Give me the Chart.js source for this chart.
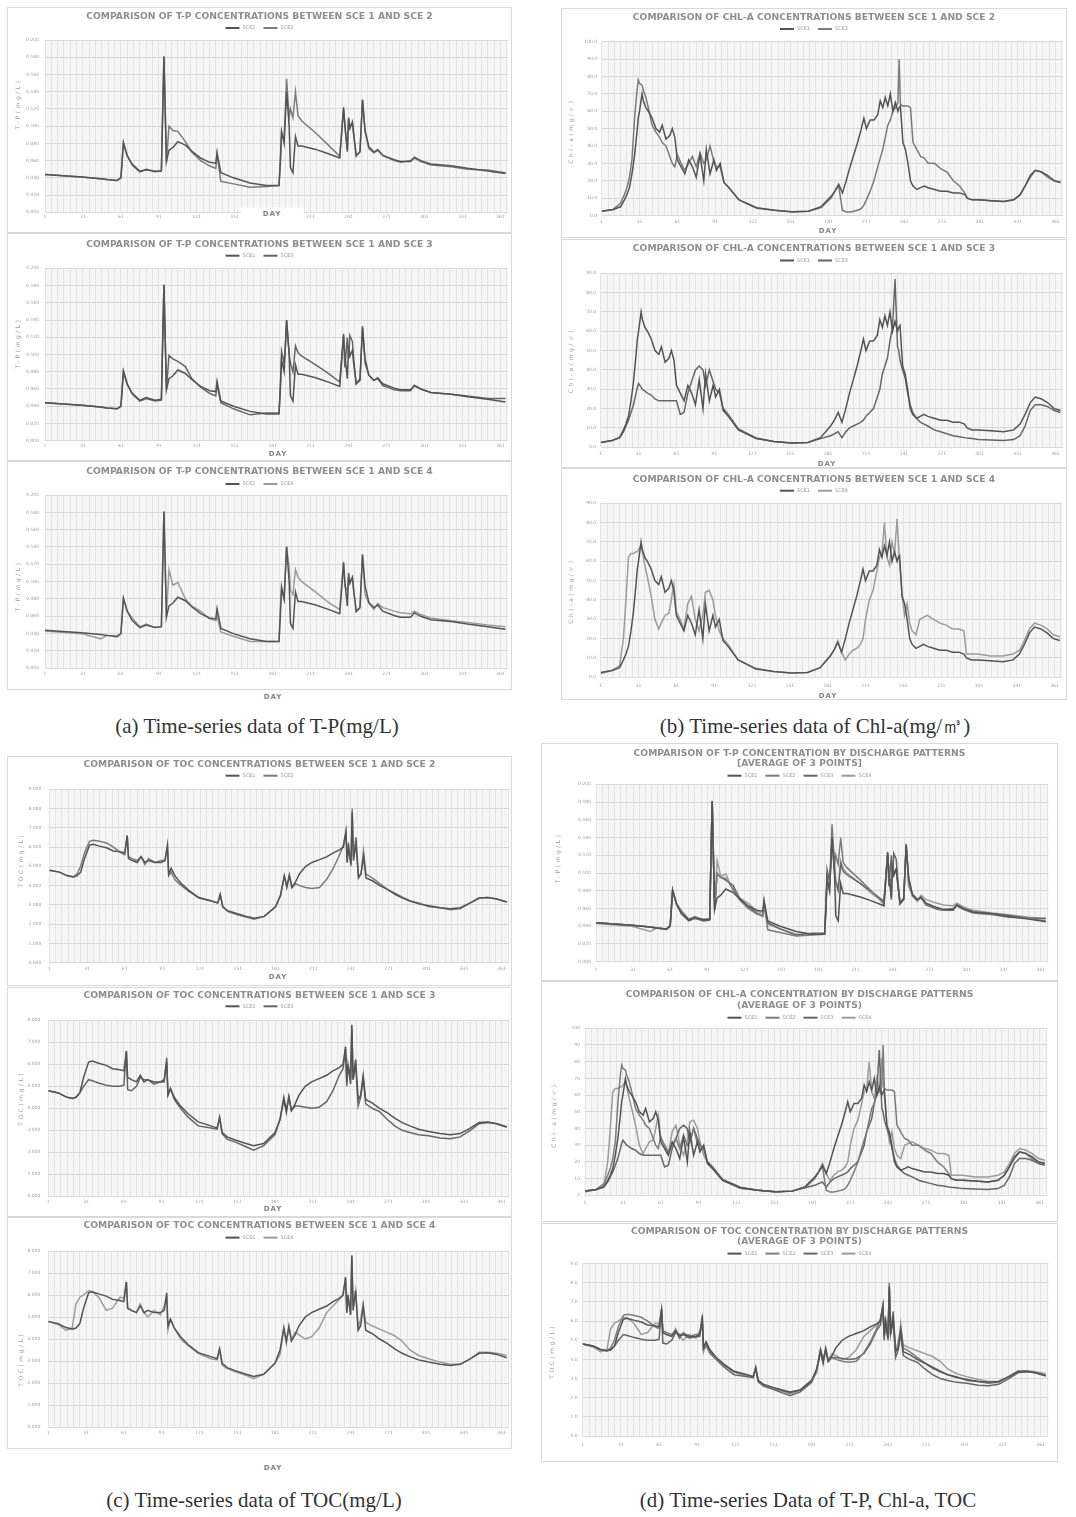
<!DOCTYPE html>
<html lang="en">
<head>
<meta charset="utf-8">
<title>Time-series data of T-P, Chl-a and TOC</title>
<script src="https://cdn.jsdelivr.net/npm/chart.js@4.4.1/dist/chart.umd.min.js"></script>
<style>
  html, body { margin: 0; padding: 0; background: #fff; overflow: hidden; }
  #page { position: relative; width: 1076px; height: 1517px; overflow: hidden; background: #fff; }
  #page canvas { position: absolute; }
  .day { position: absolute; transform: translate(-50%, -50%); font: bold 7px "DejaVu Sans", sans-serif;
         letter-spacing: 1px; color: #858585; white-space: nowrap; line-height: 1; }
  .day.boxed { background: #fff; padding: 3px 22px; }
  .cap { position: absolute; transform: translate(-50%, -50%); font: 21px "Liberation Serif", serif;
         color: #333; white-space: nowrap; }
</style>
</head>
<body>
<div id="page">
  <div class="cap" style="left:257px;top:726px">(a) Time-series data of T-P(mg/L)</div>
  <div class="cap" style="left:815px;top:726px">(b) Time-series data of Chl-a(mg/㎥)</div>
  <div class="cap" style="left:254px;top:1500px">(c) Time-series data of TOC(mg/L)</div>
  <div class="cap" style="left:808px;top:1500px">(d) Time-series Data of T-P, Chl-a, TOC</div>
</div>
<script>
// ---- axis labels ----
const DAY_TICKS = [1, 31, 61, 91, 121, 151, 181, 211, 241, 271, 301, 331, 361];
const SCENARIOS = ['SCE1', 'SCE2', 'SCE3', 'SCE4'];

// ---- T-P (mg/L) ----
const TP_DAY = [1, 30, 45, 50, 58, 61, 63, 66, 70, 76, 81, 88, 93, 95, 97, 99, 102, 106, 112, 117,
  124, 131, 136, 137, 140, 150, 163, 176, 186, 187, 188, 190, 191, 192, 194, 195, 197, 199, 201, 204,
  215, 225, 234, 237, 238, 240, 241, 242, 244, 245, 247, 250, 252, 254, 257, 261, 264, 268, 277, 282,
  290, 293, 298, 306, 322, 335, 351, 365];
const TP_SCE1 = [0.044, 0.041, 0.039, 0.038, 0.037, 0.040, 0.081, 0.066, 0.055, 0.047, 0.050, 0.047, 0.048, 0.181, 0.059,
  0.072, 0.075, 0.082, 0.078, 0.071, 0.063, 0.058, 0.057, 0.069, 0.046, 0.040, 0.034, 0.031, 0.031, 0.060,
  0.094, 0.080, 0.110, 0.140, 0.100, 0.052, 0.046, 0.088, 0.077, 0.077, 0.073, 0.068, 0.063, 0.122, 0.100,
  0.072, 0.110, 0.098, 0.105, 0.090, 0.066, 0.070, 0.131, 0.095, 0.076, 0.070, 0.073, 0.066, 0.061, 0.059,
  0.059, 0.064, 0.060, 0.056, 0.054, 0.051, 0.048, 0.045];
const TP_SCE2 = [0.044, 0.041, 0.039, 0.038, 0.037, 0.040, 0.080, 0.065, 0.056, 0.048, 0.049, 0.048, 0.048, 0.180, 0.058,
  0.100, 0.095, 0.094, 0.082, 0.070, 0.060, 0.054, 0.051, 0.068, 0.036, 0.033, 0.029, 0.030, 0.031, 0.055,
  0.090, 0.085, 0.120, 0.155, 0.110, 0.120, 0.110, 0.140, 0.112, 0.106, 0.092, 0.078, 0.065, 0.120, 0.104,
  0.070, 0.108, 0.097, 0.104, 0.092, 0.065, 0.071, 0.130, 0.094, 0.074, 0.069, 0.072, 0.066, 0.060, 0.058,
  0.060, 0.063, 0.059, 0.055, 0.053, 0.050, 0.049, 0.046];
const TP_SCE3 = [0.044, 0.041, 0.039, 0.038, 0.037, 0.040, 0.080, 0.065, 0.054, 0.046, 0.049, 0.046, 0.047, 0.181, 0.059,
  0.099, 0.095, 0.092, 0.086, 0.072, 0.062, 0.055, 0.052, 0.065, 0.044, 0.037, 0.030, 0.032, 0.032, 0.060,
  0.104, 0.090, 0.110, 0.139, 0.100, 0.090, 0.080, 0.110, 0.102, 0.098, 0.088, 0.078, 0.068, 0.124, 0.085,
  0.120, 0.095, 0.122, 0.115, 0.095, 0.066, 0.072, 0.133, 0.090, 0.076, 0.070, 0.072, 0.064, 0.059, 0.058,
  0.058, 0.064, 0.060, 0.056, 0.054, 0.052, 0.049, 0.049];
const TP_SCE4 = [0.043, 0.040, 0.034, 0.038, 0.036, 0.040, 0.081, 0.066, 0.058, 0.048, 0.051, 0.047, 0.048, 0.181, 0.060,
  0.114, 0.096, 0.099, 0.080, 0.072, 0.066, 0.057, 0.055, 0.060, 0.042, 0.037, 0.031, 0.031, 0.031, 0.070,
  0.092, 0.080, 0.110, 0.141, 0.115, 0.090, 0.085, 0.114, 0.105, 0.100, 0.088, 0.076, 0.068, 0.123, 0.095,
  0.090, 0.106, 0.100, 0.105, 0.090, 0.065, 0.070, 0.132, 0.085, 0.075, 0.068, 0.075, 0.070, 0.066, 0.064,
  0.063, 0.066, 0.062, 0.058, 0.055, 0.053, 0.050, 0.048];

// ---- Chl-a (mg/m3) ----
const CHL_DAY = [1, 10, 16, 19, 21, 23, 25, 27, 29, 30, 31, 33, 34, 36, 38, 41, 44, 47, 49, 52,
  55, 57, 59, 61, 64, 67, 70, 73, 76, 79, 82, 84, 87, 90, 92, 95, 98, 102, 110, 124,
  138, 152, 165, 175, 183, 186, 189, 192, 195, 198, 201, 204, 207, 209, 211, 214, 217, 220, 222, 224,
  226, 228, 230, 232, 234, 236, 237, 238, 240, 242, 244, 246, 248, 251, 254, 257, 260, 265, 270, 275,
  280, 285, 289, 291, 295, 300, 310, 320, 328, 333, 337, 341, 345, 350, 355, 360, 365];
const CHL_SCE1 = [2.5, 3.5, 5, 9, 12, 16, 24, 34, 48, 56, 60, 70, 66, 62, 60, 56, 50, 48, 52, 44,
  46, 50, 45, 32, 28, 24, 32, 28, 22, 35, 20, 38, 24, 32, 26, 30, 19, 16, 9, 4.5,
  3, 2.2, 2.5, 5, 11, 14, 18, 13, 20, 28, 35, 42, 50, 56, 50, 55, 55, 58, 66, 62,
  68, 63, 70, 60, 65, 60, 62, 63, 42, 38, 30, 20, 17, 15, 16, 17, 16, 15, 14, 14,
  13, 13, 12, 10, 9, 9, 8.5, 8, 9, 12, 17, 23, 26, 25, 23, 20, 19];
const CHL_SCE2 = [2.5, 3.5, 7, 12, 16, 22, 32, 55, 72, 78, 76, 75, 72, 68, 62, 52, 48, 45, 42, 40,
  34, 30, 28, 35, 30, 26, 30, 34, 28, 36, 30, 32, 40, 31, 28, 28, 19, 16, 9, 4.2,
  3, 2, 2.5, 4.5, 10, 14, 17, 3, 2, 2, 2.5, 3, 4, 6, 9, 14, 20, 28, 33, 38,
  45, 52, 55, 60, 62, 65, 90, 64, 63, 63, 63, 62, 42, 38, 34, 33, 30, 30, 27, 25,
  20, 17, 13, 10, 9, 9, 8.5, 8, 9, 12, 17, 22, 26, 25, 22, 20, 19];
const CHL_SCE3 = [2.5, 3.5, 5, 8, 11, 14, 18, 22, 28, 31, 33, 31, 30, 29, 28, 27, 25, 24, 24, 24,
  24, 24, 24, 24, 17, 18, 28, 34, 40, 42, 40, 32, 40, 34, 30, 28, 20, 17, 9.5, 4.8,
  3, 2.2, 2.5, 4.5, 6, 7, 8, 5, 8, 10, 11, 12, 13, 14, 16, 18, 20, 26, 30, 38,
  42, 46, 55, 62, 87, 52, 50, 45, 40, 36, 28, 22, 18, 15, 13, 12, 11, 9, 8, 7,
  6, 5.5, 5, 4.8, 4.5, 4, 3.8, 3.5, 4, 6, 11, 19, 22, 22, 21, 19, 18];
const CHL_SCE4 = [2.0, 3.5, 6, 20, 40, 62, 64, 64, 65, 65, 66, 68, 65, 58, 52, 42, 30, 25, 28, 32,
  33, 40, 48, 34, 30, 25, 38, 42, 30, 24, 32, 44, 45, 40, 32, 24, 20, 17, 9, 4.2,
  3, 2.2, 2.5, 5, 11, 14, 19, 13, 9, 12, 14, 15, 17, 20, 30, 40, 45, 55, 62, 64,
  80, 62, 58, 70, 64, 82, 70, 60, 42, 32, 38, 28, 24, 22, 30, 31, 32, 30, 28, 27,
  25, 25, 24, 12, 12, 12, 11, 11, 12, 14, 19, 25, 28, 27, 25, 22, 21];

// ---- TOC (mg/L) ----
const TOC_DAY = [1, 9, 15, 20, 23, 26, 29, 33, 36, 41, 47, 52, 58, 61, 63, 64, 67, 71, 74, 77,
  80, 85, 90, 93, 95, 96, 98, 101, 106, 112, 120, 130, 135, 137, 139, 143, 150, 158, 164, 172,
  181, 185, 188, 190, 192, 194, 197, 200, 205, 210, 216, 222, 227, 232, 235, 237, 238, 239, 241, 242,
  243, 245, 247, 249, 251, 253, 258, 264, 270, 276, 282, 288, 295, 303, 312, 320, 328, 336, 343, 350,
  357, 365];
const TOC_SCE1 = [4.8, 4.7, 4.52, 4.45, 4.5, 4.7, 5.4, 6.1, 6.15, 6.05, 5.95, 5.8, 5.75, 5.7, 6.6, 5.4, 5.3, 5.2, 5.5, 5.2,
  5.3, 5.2, 5.2, 5.3, 6.1, 4.6, 4.9, 4.5, 4.1, 3.75, 3.38, 3.2, 3.1, 3.55, 2.9, 2.7, 2.55, 2.4, 2.3, 2.4,
  2.9, 3.5, 4.5, 3.9, 4.55, 3.9, 4.2, 4.6, 5.0, 5.2, 5.35, 5.5, 5.7, 5.85, 6.0, 6.8, 5.2, 6.0, 5.1, 7.8,
  5.3, 6.2, 4.4, 4.6, 5.5, 4.4, 4.25, 4.0, 3.8, 3.55, 3.35, 3.2, 3.05, 2.95, 2.85, 2.8, 2.85, 3.1, 3.35, 3.38,
  3.3, 3.15];
const TOC_SCE2 = [4.8, 4.7, 4.52, 4.45, 4.6, 5.0, 5.7, 6.3, 6.35, 6.3, 6.2, 6.0, 5.7, 5.6, 6.6, 5.5, 5.4, 5.3, 5.5, 5.1,
  5.4, 5.2, 5.3, 5.3, 6.0, 4.5, 4.7, 4.3, 4.0, 3.7, 3.35, 3.2, 3.1, 3.5, 2.9, 2.65, 2.5, 2.35, 2.25, 2.4,
  2.9, 3.5, 4.5, 4.0, 4.5, 3.9, 4.1, 4.0, 3.9, 3.85, 3.9, 4.35, 4.9, 5.6, 6.1, 6.8, 5.2, 6.2, 5.0, 8.0,
  5.5, 6.5, 4.5, 4.6, 5.8, 4.6, 4.4, 4.1, 3.8, 3.6, 3.4, 3.2, 3.1, 2.9, 2.85, 2.75, 2.8, 3.1, 3.35, 3.38,
  3.3, 3.15];
const TOC_SCE3 = [4.8, 4.7, 4.52, 4.45, 4.5, 4.7, 5.0, 5.3, 5.25, 5.15, 5.05, 5.0, 5.0, 5.05, 6.6, 4.85, 4.8, 5.0, 5.4, 5.3,
  5.3, 5.1, 5.2, 5.2, 6.3, 4.6, 4.9, 4.4, 4.0, 3.6, 3.2, 3.1, 3.05, 3.6, 2.85, 2.6, 2.45, 2.25, 2.1, 2.3,
  2.8, 3.5, 4.4, 3.8, 4.5, 3.9, 4.1, 4.1, 4.05, 4.0, 4.05, 4.3, 4.8, 5.5, 5.8, 6.7, 5.0, 6.0, 5.3, 7.6,
  5.3, 6.0, 4.1, 4.5, 5.35, 4.2, 4.0, 3.85, 3.5, 3.2, 3.0, 2.9, 2.8, 2.75, 2.65, 2.62, 2.7, 3.0, 3.3, 3.35,
  3.3, 3.15];
const TOC_SCE4 = [4.8, 4.65, 4.4, 4.5, 5.6, 5.9, 6.0, 6.2, 6.15, 5.9, 5.3, 5.4, 5.9, 5.85, 6.6, 5.4, 5.3, 5.2, 5.6, 5.2,
  5.0, 5.3, 5.1, 5.5, 5.8, 4.4, 4.9, 4.5, 4.0, 3.7, 3.35, 3.1, 3.05, 3.5, 2.8, 2.65, 2.5, 2.35, 2.2, 2.4,
  2.9, 3.3, 4.5, 3.8, 4.6, 4.0, 4.3, 4.2, 4.0, 4.1, 4.5, 5.2, 5.5, 5.8, 6.0, 6.8, 5.2, 5.9, 5.1, 7.8,
  5.5, 6.2, 4.5, 4.9, 5.6, 4.75, 4.6, 4.45, 4.3, 4.15, 3.9, 3.5, 3.25, 3.1, 2.95, 2.85, 2.85, 3.1, 3.4, 3.4,
  3.35, 3.25];

const PARAMS = {
  TP:  { day: TP_DAY,  series: [TP_SCE1, TP_SCE2, TP_SCE3, TP_SCE4] },
  CHL: { day: CHL_DAY, series: [CHL_SCE1, CHL_SCE2, CHL_SCE3, CHL_SCE4] },
  TOC: { day: TOC_DAY, series: [TOC_SCE1, TOC_SCE2, TOC_SCE3, TOC_SCE4] }
};

// ---- styling ----
const FONT = '"DejaVu Sans", sans-serif';
const LINE_COLORS = ['#545454', '#7c7c7c', '#676767', '#9c9c9c'];
const GRID_DAYS = [];
for (let d = 1; d <= 366; d += 5) GRID_DAYS.push(d);

// Panel layout in page pixels: frame [x, y, w, h], plot area [left, top, right, bottom]
const PANELS = [
  { param: 'TP', pair: [0, 1], yMax: 0.2, yStep: 0.02, digits: 3, yTitle: 'T-P(mg/L)',
    title: ['COMPARISON OF T-P CONCENTRATIONS BETWEEN SCE 1 AND SCE 2'],
    frame: [7, 7, 505, 226], plot: [45, 40, 508, 212.3], titleY: [16.7], legendY: 28, tickY: 217,
    yPad: 6, yTitleAt: [18, 104], day: [272, 213.5, true] },
  { param: 'TP', pair: [0, 2], yMax: 0.2, yStep: 0.02, digits: 3, yTitle: 'T-P(mg/L)',
    title: ['COMPARISON OF T-P CONCENTRATIONS BETWEEN SCE 1 AND SCE 3'],
    frame: [7, 233, 505, 228], plot: [45, 268.3, 508, 440.7], titleY: [245], legendY: 255.7, tickY: 446,
    yPad: 6, yTitleAt: [18, 343], day: [278, 454, false] },
  { param: 'TP', pair: [0, 3], yMax: 0.2, yStep: 0.02, digits: 3, yTitle: 'T-P(mg/L)',
    title: ['COMPARISON OF T-P CONCENTRATIONS BETWEEN SCE 1 AND SCE 4'],
    frame: [7, 461, 505, 229], plot: [45, 495, 508, 668.3], titleY: [471.5], legendY: 484, tickY: 674,
    yPad: 6, yTitleAt: [18, 586], day: [273, 697, true] },
  { param: 'CHL', pair: [0, 1], yMax: 100, yStep: 10, digits: 1, yTitle: 'Chl-a(mg/㎥)',
    title: ['COMPARISON OF CHL-A CONCENTRATIONS BETWEEN SCE 1 AND SCE 2'],
    frame: [561, 8, 506, 230.5], plot: [601.7, 41.7, 1063, 216], titleY: [17.3], legendY: 29, tickY: 222,
    yPad: 4.5, yTitleAt: [571.7, 131], day: [828, 231, false] },
  { param: 'CHL', pair: [0, 2], yMax: 90, yStep: 10, digits: 1, yTitle: 'Chl-a(mg/㎥)',
    title: ['COMPARISON OF CHL-A CONCENTRATIONS BETWEEN SCE 1 AND SCE 3'],
    frame: [561, 238.5, 506, 229.5], plot: [600.7, 272.7, 1063, 447.3], titleY: [248.3], legendY: 260, tickY: 454,
    yPad: 4.5, yTitleAt: [571.7, 360], day: [827, 464, false] },
  { param: 'CHL', pair: [0, 3], yMax: 90, yStep: 10, digits: 1, yTitle: 'Chl-a(mg/㎥)',
    title: ['COMPARISON OF CHL-A CONCENTRATIONS BETWEEN SCE 1 AND SCE 4'],
    frame: [561, 468, 506, 232], plot: [600.7, 503.3, 1063, 677.3], titleY: [479.3], legendY: 490.7, tickY: 686,
    yPad: 4.5, yTitleAt: [571.7, 591], day: [828, 695.7, false] },
  { param: 'TOC', pair: [0, 1], yMax: 9, yStep: 1, digits: 3, yTitle: 'TOC(mg/L)',
    title: ['COMPARISON OF TOC CONCENTRATIONS BETWEEN SCE 1 AND SCE 2'],
    frame: [7, 756, 505, 230.7], plot: [49.3, 789.3, 509.3, 963.3], titleY: [765], legendY: 775.7, tickY: 969.3,
    yPad: 8, yTitleAt: [21.7, 860], day: [278, 977.3, false] },
  { param: 'TOC', pair: [0, 2], yMax: 8, yStep: 1, digits: 3, yTitle: 'TOC(mg/L)',
    title: ['COMPARISON OF TOC CONCENTRATIONS BETWEEN SCE 1 AND SCE 3'],
    frame: [7, 986.7, 505, 230], plot: [48.3, 1020, 509.3, 1196], titleY: [995], legendY: 1006, tickY: 1201.7,
    yPad: 8, yTitleAt: [21.7, 1098], day: [273, 1209.3, false] },
  { param: 'TOC', pair: [0, 3], yMax: 8, yStep: 1, digits: 3, yTitle: 'TOC(mg/L)',
    title: ['COMPARISON OF TOC CONCENTRATIONS BETWEEN SCE 1 AND SCE 4'],
    frame: [7, 1216.7, 505, 232.6], plot: [48.3, 1250.7, 509.3, 1427.3], titleY: [1225], legendY: 1237.3, tickY: 1432.7,
    yPad: 8, yTitleAt: [21.7, 1359], day: [273, 1468.3, false] },
  { param: 'TP', pair: [0, 1, 2, 3], yMax: 0.2, yStep: 0.02, digits: 3, yTitle: 'T-P(mg/L)',
    title: ['COMPARISON OF T-P CONCENTRATION BY DISCHARGE PATTERNS', '[AVERAGE OF 3 POINTS]'],
    frame: [541, 743, 517, 238], plot: [596, 784.3, 1048.3, 961.7], titleY: [753.3, 764], legendY: 775.7, tickY: 970,
    yPad: 5, yTitleAt: [558.3, 858], day: null },
  { param: 'CHL', pair: [0, 1, 2, 3], yMax: 100, yStep: 10, digits: 0, yTitle: 'Chl-a(mg/㎥)',
    title: ['COMPARISON OF CHL-A CONCENTRATION BY DISCHARGE PATTERNS', '(AVERAGE OF 3 POINTS)'],
    frame: [541, 981, 517, 241.7], plot: [585, 1028.3, 1047.3, 1196], titleY: [995, 1005.5], legendY: 1017.7, tickY: 1204,
    yPad: 5, yTitleAt: [554, 1115], day: null },
  { param: 'TOC', pair: [0, 1, 2, 3], yMax: 9, yStep: 1, digits: 1, yTitle: 'TOC(mg/L)',
    title: ['COMPARISON OF TOC CONCENTRATION BY DISCHARGE PATTERNS', '(AVERAGE OF 3 POINTS)'],
    frame: [541, 1222.7, 517, 239], plot: [582.7, 1263.3, 1048.3, 1435.7], titleY: [1231.7, 1241.7], legendY: 1253.3, tickY: 1445,
    yPad: 5, yTitleAt: [552.7, 1351], day: null }
];

// Frame, plot background, headings, legend and rotated axis title
const panelText = {
  id: 'panelText',
  beforeDraw(chart, args, o) {
    const { ctx, chartArea: a } = chart;
    ctx.save();
    ctx.fillStyle = '#f6f6f6';
    ctx.fillRect(a.left, a.top, a.right - a.left, a.bottom - a.top);
    ctx.strokeStyle = '#d9d9d9';
    ctx.lineWidth = 1;
    ctx.strokeRect(0.5, 0.5, chart.width - 1, chart.height - 1);
    ctx.restore();
  },
  afterDraw(chart, args, o) {
    const ctx = chart.ctx;
    ctx.save();
    ctx.textAlign = 'center';
    ctx.textBaseline = 'middle';
    ctx.fillStyle = '#8e8e8e';
    ctx.font = 'bold 9.2px ' + FONT;
    o.title.forEach((t, i) => ctx.fillText(t, o.cx, o.titleY[i]));

    ctx.font = '5px ' + FONT;
    const items = chart.data.datasets.map(ds => ({
      label: ds.label, color: ds.borderColor, w: 17 + ctx.measureText(ds.label).width
    }));
    const gap = 8;
    const total = items.reduce((s, it) => s + it.w, 0) + gap * (items.length - 1);
    let x = o.cx - total / 2;
    ctx.textAlign = 'left';
    items.forEach(it => {
      ctx.fillStyle = it.color;
      ctx.fillRect(x, o.legendY - 1, 14, 2);
      ctx.fillStyle = '#999';
      ctx.fillText(it.label, x + 17, o.legendY);
      x += it.w + gap;
    });

    ctx.translate(o.yTitleX, o.yTitleY);
    ctx.rotate(-Math.PI / 2);
    ctx.textAlign = 'center';
    ctx.font = '6px ' + FONT;
    ctx.letterSpacing = '2.5px';
    ctx.fillStyle = '#999';
    ctx.fillText(o.yTitle, 0, 0);
    ctx.restore();
  }
};

const page = document.getElementById('page');

PANELS.forEach(p => {
  const [fx, fy, fw, fh] = p.frame;
  const [L, T, R, B] = p.plot;
  const src = PARAMS[p.param];

  const canvas = document.createElement('canvas');
  canvas.width = fw;
  canvas.height = fh;
  canvas.style.left = fx + 'px';
  canvas.style.top = fy + 'px';
  page.appendChild(canvas);

  const yTicks = [];
  const nY = Math.round(p.yMax / p.yStep);
  for (let i = 0; i <= nY; i++) yTicks.push(+(i * p.yStep).toFixed(6));

  const datasets = p.pair.map(k => ({
    label: SCENARIOS[k],
    data: src.day.map((d, i) => ({ x: d, y: src.series[k][i] })),
    borderColor: LINE_COLORS[k],
    borderWidth: 1.5,
    pointRadius: 0,
    fill: false,
    tension: 0
  }));

  const tickFont = { family: FONT, size: 4.5 };

  new Chart(canvas, {
    type: 'line',
    data: { datasets },
    options: {
      responsive: false,
      animation: false,
      devicePixelRatio: 1,
      events: [],
      layout: { padding: { left: 0, top: T - fy, right: fx + fw - R, bottom: 0 } },
      plugins: {
        legend: { display: false },
        title: { display: false },
        tooltip: { enabled: false },
        panelText: {
          title: p.title,
          cx: fw / 2,
          titleY: p.titleY.map(v => v - fy),
          legendY: p.legendY - fy,
          yTitle: p.yTitle,
          yTitleX: p.yTitleAt[0] - fx,
          yTitleY: p.yTitleAt[1] - fy
        }
      },
      scales: {
        x: {
          type: 'linear', min: 1, max: 367,
          afterBuildTicks: s => { s.ticks = GRID_DAYS.map(v => ({ value: v })); },
          afterFit: s => { s.height = fy + fh - B; },
          border: { display: false },
          grid: { color: '#e4e4e4', lineWidth: 1, drawTicks: false },
          ticks: {
            autoSkip: false, maxRotation: 0, minRotation: 0,
            padding: Math.max(0, p.tickY - B - 2.7),
            font: tickFont, color: '#a0a0a0',
            callback: v => (DAY_TICKS.includes(v) ? String(v) : '')
          }
        },
        y: {
          type: 'linear', min: 0, max: p.yMax,
          afterBuildTicks: s => { s.ticks = yTicks.map(v => ({ value: v })); },
          afterFit: s => { s.width = L - fx; },
          border: { display: false },
          grid: { color: '#d8d8d8', lineWidth: 1, drawTicks: false },
          ticks: {
            autoSkip: false, padding: p.yPad,
            font: tickFont, color: '#a0a0a0',
            callback: v => Number(v).toFixed(p.digits)
          }
        }
      }
    },
    plugins: [panelText]
  });

  if (p.day) {
    const d = document.createElement('div');
    d.className = 'day' + (p.day[2] ? ' boxed' : '');
    d.style.left = p.day[0] + 'px';
    d.style.top = p.day[1] + 'px';
    d.textContent = 'DAY';
    page.appendChild(d);
  }
});
</script>
</body>
</html>
